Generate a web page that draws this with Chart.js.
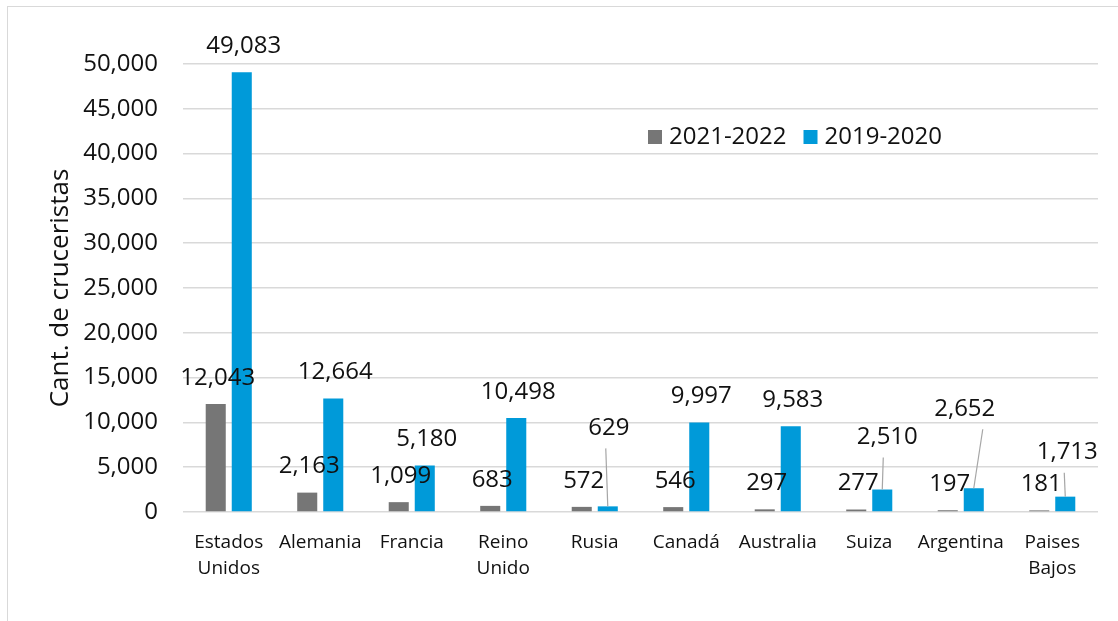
<!DOCTYPE html>
<html>
<head>
<meta charset="utf-8">
<script src="https://cdn.jsdelivr.net/npm/chart.js@4.4.1/dist/chart.umd.min.js"></script>
<style>
  html, body { margin: 0; padding: 0; background: #fff; overflow: hidden; }
  #frame {
    position: absolute; left: 7px; top: 6px;
    width: 1140px; height: 640px;
    border: 1.5px solid #d9d9d9;
  }
  #wrap { position: absolute; left: 0; top: 0; width: 1118px; height: 621px; }
</style>
</head>
<body>
<div id="frame"></div>
<div id="wrap"><canvas id="chartCruceristas" width="1118" height="621"></canvas></div>
<script>
// Países de origen de los cruceristas
const paises = [
    ['Estados', 'Unidos'], 'Alemania', 'Francia', ['Reino', 'Unido'], 'Rusia',
    'Canadá', 'Australia', 'Suiza', 'Argentina', ['Paises', 'Bajos']
];
const temporada2122 = [12043, 2163, 1099, 683, 572, 546, 297, 277, 197, 181];
const temporada1920 = [49083, 12664, 5180, 10498, 629, 9997, 9583, 2510, 2652, 1713];
const ticksY = [0, 5000, 10000, 15000, 20000, 25000, 30000, 35000, 40000, 45000, 50000];

const FONT = "'Open Sans', 'Noto Sans', sans-serif";
const fmt = v => v.toLocaleString('en-US');

// Etiquetas de datos (con líneas guía para las que se desplazan)
const etiquetas = {
    id: 'etiquetas',
    afterDatasetsDraw(chart, args, opts) {
        const ctx = chart.ctx;
        ctx.save();
        ctx.font = '24px ' + FONT;
        ctx.fillStyle = '#111';
        ctx.textAlign = 'center';
        ctx.textBaseline = 'middle';
        chart.data.datasets.forEach((ds, di) => {
            const meta = chart.getDatasetMeta(di);
            const guias = (opts.guias && opts.guias[di]) || {};
            meta.data.forEach((bar, i) => {
                const g = guias[i];
                let x = bar.x + 2;
                let y = bar.y - 26;
                if (g) {
                    x = bar.x + g.dx;
                    y = bar.y - g.lift;
                    ctx.strokeStyle = '#a6a6a6';
                    ctx.lineWidth = 1.2;
                    ctx.beginPath();
                    ctx.moveTo(bar.x + g.lx, y + 20);
                    ctx.lineTo(bar.x, bar.y);
                    ctx.stroke();
                }
                ctx.fillText(fmt(ds.data[i]), x, y);
            });
        });
        ctx.restore();
    }
};

// Leyenda dentro del área del gráfico
const leyenda = {
    id: 'leyenda',
    afterDraw(chart) {
        const ctx = chart.ctx;
        const area = chart.chartArea;
        let x = area.left + 465;
        const y = area.top + 73;
        ctx.save();
        ctx.font = '24px ' + FONT;
        ctx.textBaseline = 'middle';
        ctx.textAlign = 'left';
        chart.data.datasets.forEach(ds => {
            ctx.fillStyle = ds.backgroundColor;
            ctx.fillRect(x, y - 7, 14, 14);
            ctx.fillStyle = '#111';
            ctx.fillText(ds.label, x + 21, y);
            x += 21 + ctx.measureText(ds.label).width + 17;
        });
        ctx.restore();
    }
};

new Chart(document.getElementById('chartCruceristas'), {
    type: 'bar',
    data: {
        labels: paises,
        datasets: [
            { label: '2021-2022', data: temporada2122, backgroundColor: '#767676' },
            { label: '2019-2020', data: temporada1920, backgroundColor: '#009ad9' }
        ]
    },
    options: {
        responsive: false,
        animation: false,
        devicePixelRatio: 1,
        categoryPercentage: 0.569,
        barPercentage: 0.77,
        layout: { padding: { left: 30, top: 64, right: 20, bottom: 0 } },
        plugins: {
            legend: { display: false },
            tooltip: { enabled: false },
            etiquetas: {
                guias: {
                    1: {
                        4: { dx: 1, lift: 78, lx: -2 },
                        7: { dx: 5, lift: 52, lx: 1 },
                        8: { dx: -9, lift: 79, lx: 9 },
                        9: { dx: 2, lift: 44, lx: -1 }
                    }
                }
            }
        },
        scales: {
            x: {
                afterFit: s => { s.height = 109; },
                grid: { display: false },
                border: { display: false },
                ticks: {
                    autoSkip: false, maxRotation: 0, padding: 10,
                    color: '#111',
                    font: { family: FONT, size: 19, lineHeight: 1.37 }
                }
            },
            y: {
                min: 0, max: 50000,
                afterFit: s => { s.width = 153; },
                afterBuildTicks: s => { s.ticks = ticksY.map(v => ({ value: v })); },
                grid: { color: '#d9d9d9', lineWidth: 1.5, drawTicks: false },
                border: { display: false },
                ticks: {
                    padding: 25, color: '#111',
                    font: { family: FONT, size: 24 },
                    callback: v => fmt(v)
                },
                title: {
                    display: true, text: 'Cant. de cruceristas',
                    color: '#111', padding: { top: 15, bottom: 0 },
                    font: { family: FONT, size: 26 }
                }
            }
        }
    },
    plugins: [etiquetas, leyenda]
});
</script>
</body>
</html>
